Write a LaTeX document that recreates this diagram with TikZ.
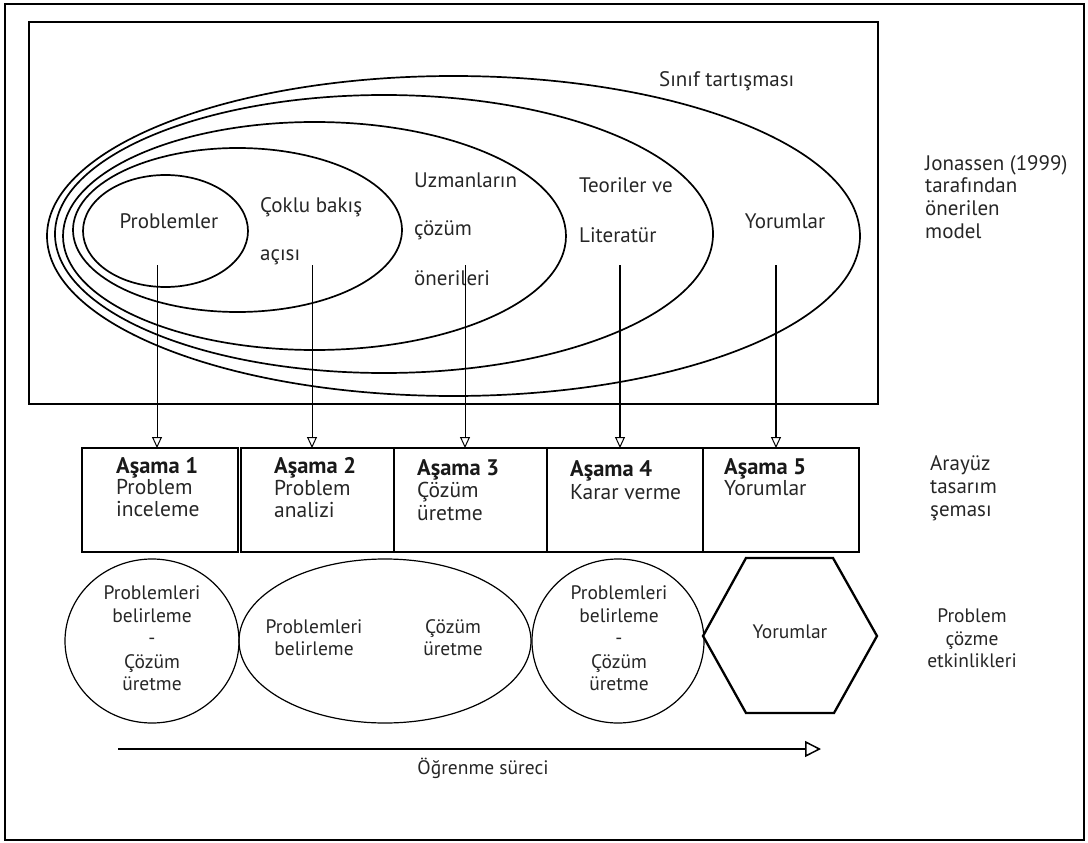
\documentclass[tikz,border=0pt]{standalone}
\usepackage{fontspec}
\setmainfont{PT Sans}
\usetikzlibrary{shapes.geometric,arrows.meta}
\begin{document}
\begin{tikzpicture}[x=1pt,y=-1pt,
  ring/.style={ellipse, draw, line width=1.7pt, inner sep=0pt, outer sep=0pt},
  blob/.style={ellipse, draw, line width=1.2pt, inner sep=0pt, outer sep=0pt},
  cell/.style={draw, line width=1.4pt, minimum height=104pt, inner sep=0pt, outer sep=0pt, anchor=north west},
  lbl/.style={font=\fontsize{21}{22}\selectfont, inner sep=0pt, text=black!85},
  boxt/.style={font=\fontsize{21.5}{22}\selectfont, inner sep=0pt, text=black!85},
  sml/.style={font=\fontsize{19.5}{21}\selectfont, inner sep=0pt, text=black!85},
  bld/.style={font=\fontsize{22.5}{23}\selectfont\bfseries, inner sep=0pt, text=black!90},
  thinarrow/.style={line width=1pt, -{Triangle[open, width=10pt, length=11pt, line width=1pt]}},
  thickarrow/.style={line width=2.5pt, -{Triangle[open, width=10pt, length=11pt, line width=1pt]}}
]
\useasboundingbox (0,0) rectangle (1088,843);
% outer frame
\draw[line width=2pt] (5,4) rectangle (1084,840);
% inner frame
\draw[line width=1.5pt] (29,22) rectangle (878,404);

% nested ellipses
\node[ring, minimum width=813pt, minimum height=320pt] (e1) at (453.5,236) {};
\node[ring, minimum width=658pt, minimum height=278pt] (e2) at (384,234) {};
\node[ring, minimum width=503pt, minimum height=228pt] (e3) at (314.5,236) {};
\node[ring, minimum width=329pt, minimum height=164pt] (e4) at (237.5,230) {};
\node[ring, minimum width=165pt, minimum height=112pt] (e5) at (165.5,231) {};

% labels in ellipses
\node[lbl, anchor=base west] (t1) at (659,87) {Sınıf tartışması};
\node[lbl, anchor=base] (t2) at (169,228) {Problemler};
\node[lbl, anchor=base west] (t3a) at (260,212) {Çoklu bakış};
\node[lbl, anchor=base west] (t3b) at (260,260) {açısı};
\node[lbl, anchor=base west] (t4a) at (414,187) {Uzmanların};
\node[lbl, anchor=base west] (t4b) at (414,235) {çözüm};
\node[lbl, anchor=base west] (t4c) at (414,285) {önerileri};
\node[lbl, anchor=base west] (t5a) at (579,192) {Teoriler ve};
\node[lbl, anchor=base west] (t5b) at (579,242) {Literatür};
\node[lbl, anchor=base] (t6) at (785,228) {Yorumlar};

% right label top
\node[lbl, anchor=base west] (j1) at (925,170) {Jonassen (1999)};
\node[lbl, anchor=base west] (j2) at (925,192) {tarafından};
\node[lbl, anchor=base west] (j3) at (925,215) {önerilen};
\node[lbl, anchor=base west] (j4) at (925,238) {model};

% stage cells
\node[cell, minimum width=156pt] (s1) at (82,448) {};
\node[cell, minimum width=153pt] (s2) at (241,448) {};
\node[cell, minimum width=153pt] (s3) at (394,448) {};
\node[cell, minimum width=156pt] (s4) at (547,448) {};
\node[cell, minimum width=156pt] (s5) at (703,448) {};
\draw[line width=2.5pt] (s3.north west) -- (s3.south west);
\draw[line width=2.5pt] (s4.north west) -- (s4.south west);
\draw[line width=2.5pt] (s5.north west) -- (s5.south west);

% arrow starts
\coordinate (p1) at (157,265);
\coordinate (p2) at (312,265);
\coordinate (p3) at (465,265);
\coordinate (p4) at (620,265);
\coordinate (p5) at (776,265);
\draw[thinarrow] (p1) -- (p1 |- s1.north);
\draw[thinarrow] (p2) -- (p2 |- s2.north);
\draw[thinarrow] (p3) -- (p3 |- s3.north);
\draw[thickarrow] (p4) -- (p4 |- s4.north);
\draw[thickarrow] (p5) -- (p5 |- s5.north);

% stage texts
\node[bld, anchor=base west] (a1) at (116,473) {Aşama 1};
\node[boxt, anchor=base west] (a1b) at (116,494) {Problem};
\node[boxt, anchor=base west] (a1c) at (116,516) {inceleme};
\node[bld, anchor=base west] (a2) at (274,473) {Aşama 2};
\node[boxt, anchor=base west] (a2b) at (274,495) {Problem};
\node[boxt, anchor=base west] (a2c) at (274,517) {analizi};
\node[bld, anchor=base west] (a3) at (417,475) {Aşama 3};
\node[boxt, anchor=base west] (a3b) at (417,497) {Çözüm};
\node[boxt, anchor=base west] (a3c) at (417,520) {üretme};
\node[bld, anchor=base west] (a4) at (570,476) {Aşama 4};
\node[boxt, anchor=base west] (a4b) at (570,499) {Karar verme};
\node[bld, anchor=base west] (a5) at (724,474) {Aşama 5};
\node[boxt, anchor=base west] (a5b) at (724,495) {Yorumlar};

\node[lbl, anchor=base west] (r1) at (930,470) {Arayüz};
\node[lbl, anchor=base west] (r2) at (930,493) {tasarım};
\node[lbl, anchor=base west] (r3) at (930,516) {şeması};

% bottom shapes
\node[blob, minimum width=174pt, minimum height=164pt] (b1) at (152,641) {};
\node[blob, minimum width=292pt, minimum height=164pt] (b2) at (385,641) {};
\node[blob, minimum width=172pt, minimum height=164pt] (b3) at (618,641) {};
\coordinate (h1) at (746,558);
\coordinate (h2) at (833,558);
\coordinate (h3) at (877,636);
\coordinate (h4) at (834,713);
\coordinate (h5) at (746,713);
\coordinate (h6) at (703,636);
\draw[line width=2.3pt, line join=miter] (h1) -- (h2) -- (h3) -- (h4) -- (h5) -- (h6) -- cycle;

\node[sml, anchor=base] (c1a) at (152,599) {Problemleri};
\node[sml, anchor=base] (c1b) at (152,622) {belirleme};
\node[sml, anchor=base] (c1c) at (152,644) {-};
\node[sml, anchor=base] (c1d) at (152,668) {Çözüm};
\node[sml, anchor=base] (c1e) at (152,690) {üretme};

\node[sml, anchor=base] (c2a) at (314,633) {Problemleri};
\node[sml, anchor=base] (c2b) at (314,655) {belirleme};
\node[sml, anchor=base] (c2c) at (453,633) {Çözüm};
\node[sml, anchor=base] (c2d) at (453,655) {üretme};

\node[sml, anchor=base] (c3a) at (619,599) {Problemleri};
\node[sml, anchor=base] (c3b) at (619,622) {belirleme};
\node[sml, anchor=base] (c3c) at (619,644) {-};
\node[sml, anchor=base] (c3d) at (619,668) {Çözüm};
\node[sml, anchor=base] (c3e) at (619,690) {üretme};

\node[sml, anchor=base] (hx) at (790,638) {Yorumlar};

\node[sml, anchor=base] (k1) at (972,622) {Problem};
\node[sml, anchor=base] (k2) at (972,645) {çözme};
\node[sml, anchor=base] (k3) at (972,667) {etkinlikleri};

% learning process arrow
\coordinate (q0) at (118,749);
\coordinate (q1) at (821,749);
\draw[line width=2.5pt, -{Triangle[open, width=16pt, length=16pt, line width=1.5pt]}] (q0) -- (q1);
\node[sml, anchor=base] (og) at (483,774) {Öğrenme süreci};
\end{tikzpicture}
\end{document}
